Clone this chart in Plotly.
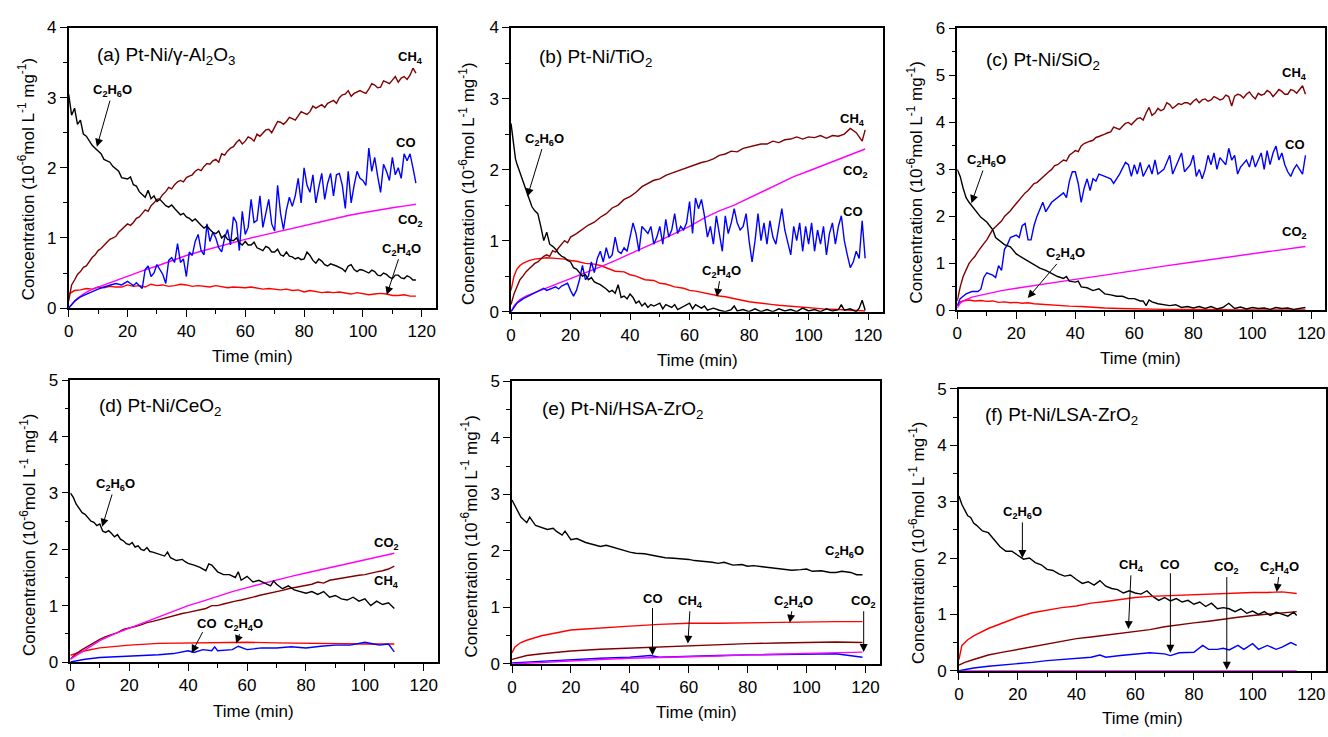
import plotly.graph_objects as go

FONT = "Liberation Sans, Arial, sans-serif"
W, H = 1328, 737

COLORS = {"CH4": "#800000", "C2H6O": "#000000", "CO": "#0000FF",
          "CO2": "#FF00FF", "C2H4O": "#FF0000"}

x_ticks = [0, 20, 40, 60, 80, 100, 120]
x_minor = [10, 30, 50, 70, 90, 110]

# ---------------- (a) Pt-Ni/gamma-Al2O3 ----------------
a_t_c2h6o = list(range(0, 119))
a_c2h6o = [3.05, 2.75, 2.85, 2.62, 2.68, 2.48, 2.45, 2.38, 2.32, 2.28, 2.24, 2.2, 2.12, 2.1, 2.08,
           2.02, 1.98, 1.95, 1.86, 1.85, 1.84, 1.87, 1.76, 1.74, 1.66, 1.62, 1.58, 1.68, 1.56, 1.6,
           1.52, 1.55, 1.5, 1.46, 1.44, 1.47, 1.42, 1.38, 1.33, 1.35, 1.3, 1.28, 1.24, 1.27, 1.22,
           1.18, 1.14, 1.17, 1.12, 1.08, 1.06, 1.1, 1.0, 1.04, 0.98, 0.97, 0.96, 1.0, 0.93, 0.9,
           0.95, 0.9, 0.9, 0.94, 0.86, 0.84, 0.82, 0.88, 0.86, 0.8, 0.8, 0.84, 0.76, 0.74, 0.8, 0.74,
           0.73, 0.7, 0.72, 0.69, 0.7, 0.8, 0.75, 0.68, 0.64, 0.7, 0.67, 0.62, 0.6, 0.63, 0.62, 0.6,
           0.58, 0.56, 0.52, 0.6, 0.62, 0.55, 0.52, 0.55, 0.54, 0.52, 0.5, 0.54, 0.52, 0.47, 0.46,
           0.5, 0.48, 0.44, 0.42, 0.47, 0.47, 0.43, 0.42, 0.46, 0.44, 0.4, 0.4]
a_t_ch4 = list(range(0, 119))
a_ch4 = [0.1, 0.33, 0.4, 0.48, 0.52, 0.58, 0.6, 0.66, 0.72, 0.76, 0.82, 0.85, 0.9, 0.94, 0.98, 1.0,
         1.02, 1.08, 1.12, 1.15, 1.2, 1.18, 1.22, 1.28, 1.3, 1.35, 1.4, 1.38, 1.46, 1.5, 1.55, 1.56,
         1.62, 1.66, 1.72, 1.7, 1.76, 1.8, 1.82, 1.8, 1.86, 1.88, 1.9, 1.95, 1.98, 1.96, 2.02, 2.06,
         2.05, 2.1, 2.12, 2.08, 2.2, 2.18, 2.24, 2.28, 2.3, 2.36, 2.4, 2.34, 2.38, 2.44, 2.42, 2.38,
         2.48, 2.45, 2.5, 2.54, 2.55, 2.5, 2.58, 2.66, 2.65, 2.62, 2.66, 2.72, 2.7, 2.68, 2.74, 2.8,
         2.78, 2.76, 2.8, 2.88, 2.85, 2.88, 2.9, 2.86, 2.92, 2.94, 2.96, 2.92, 3.0, 3.04, 3.05, 3.1,
         3.02, 3.06, 3.08, 3.1, 3.08, 3.06, 3.12, 3.2, 3.18, 3.14, 3.15, 3.24, 3.22, 3.2, 3.25, 3.3,
         3.22, 3.28, 3.3, 3.26, 3.32, 3.42, 3.35]
a_t_co = [0, 2, 4, 6, 8, 10, 12, 14, 16, 18, 20, 21, 22, 23, 25, 26, 27, 28, 29, 30, 31, 32, 33, 34,
          35, 36, 37, 38, 39, 40, 41, 42, 43, 44, 45, 46, 47, 48, 49, 50, 51, 52, 53, 54, 55, 56, 57,
          58, 59, 60, 61, 62, 63, 64, 65, 66, 67, 68, 69, 70, 71, 72, 73, 74, 75, 76, 77, 78, 79, 80,
          81, 82, 83, 84, 85, 86, 87, 88, 89, 90, 91, 92, 93, 94, 95, 96, 97, 98, 99, 100, 101, 102,
          103, 104, 105, 106, 107, 108, 109, 110, 111, 112, 113, 114, 115, 116, 117, 118]
a_co = [0.0, 0.1, 0.16, 0.2, 0.24, 0.27, 0.3, 0.32, 0.35, 0.33, 0.38, 0.35, 0.32, 0.36, 0.28, 0.55,
        0.6, 0.45, 0.5, 0.62, 0.55, 0.48, 0.35, 0.68, 0.72, 0.65, 0.92, 0.65, 0.7, 0.45, 0.8, 0.75,
        0.95, 1.05, 0.82, 0.76, 1.2, 0.95, 1.08, 1.0, 0.86, 0.8, 1.0, 1.12, 0.9, 1.3, 1.22, 0.82,
        1.38, 1.05, 1.15, 1.55, 1.22, 1.25, 1.6, 1.15, 1.35, 1.55, 1.2, 1.1, 1.75, 1.35, 1.12, 1.4,
        1.58, 1.45, 1.6, 1.85, 1.5, 2.0, 1.75, 1.65, 1.9, 1.5, 1.72, 1.92, 1.55, 1.78, 1.92, 1.6,
        1.9, 1.92, 1.75, 1.42, 1.95, 1.5, 1.75, 1.95, 1.85, 1.82, 1.75, 2.28, 1.95, 2.15, 1.88, 1.65,
        2.05, 1.95, 1.82, 2.15, 1.9, 2.0, 1.85, 2.2, 2.1, 2.2, 2.0, 1.78]
a_t_co2 = [0, 1, 2, 3, 5, 7, 10, 15, 20, 25, 30, 35, 40, 45, 50, 55, 60, 65, 70, 75, 80, 85, 90, 95,
           100, 105, 110, 115, 118]
a_co2 = [0.0, 0.05, 0.1, 0.14, 0.2, 0.25, 0.3, 0.38, 0.46, 0.53, 0.6, 0.68, 0.75, 0.81, 0.87, 0.93,
         0.98, 1.03, 1.08, 1.13, 1.18, 1.23, 1.27, 1.32, 1.36, 1.4, 1.43, 1.46, 1.48]
a_t_c2h4o = [0, 1, 2, 4, 6, 8, 10, 12, 14, 16, 18, 20, 22, 24, 26, 28, 30, 32, 34, 36, 38, 40, 42,
             44, 46, 48, 50, 52, 54, 56, 58, 60, 62, 64, 66, 68, 70, 72, 74, 76, 78, 80, 82, 84, 86,
             88, 90, 92, 94, 96, 98, 100, 102, 104, 106, 108, 110, 112, 114, 116, 118]
a_c2h4o = [0.2, 0.23, 0.25, 0.26, 0.28, 0.27, 0.3, 0.29, 0.31, 0.3, 0.3, 0.33, 0.31, 0.32, 0.3,
           0.34, 0.32, 0.33, 0.31, 0.32, 0.34, 0.33, 0.31, 0.32, 0.31, 0.3, 0.32, 0.31, 0.29, 0.3,
           0.29, 0.29, 0.3, 0.28, 0.27, 0.28, 0.27, 0.26, 0.27, 0.25, 0.26, 0.23, 0.25, 0.24, 0.22,
           0.23, 0.22, 0.23, 0.21, 0.2, 0.22, 0.21, 0.19, 0.2, 0.21, 0.2, 0.18, 0.18, 0.19, 0.17,
           0.17]

# ---------------- (b) Pt-Ni/TiO2 ----------------
b_t_c2h6o = [0, 0.5, 1, 1.5, 2, 3, 4, 5, 6, 7, 8, 9, 10, 11, 12, 13, 14, 15, 16, 17, 18, 19, 20, 21,
             22, 23, 24, 25, 26, 27, 28, 29, 30, 32, 33, 34, 35, 36, 37, 38, 39, 40, 41, 42, 43, 44,
             45, 46, 47, 48, 50, 51, 52, 54, 55, 56, 58, 60, 61, 62, 64, 65, 66, 68, 70, 72, 74, 75,
             76, 78, 80, 82, 84, 86, 88, 90, 92, 94, 96, 98, 100, 102, 104, 106, 108, 110, 111, 112,
             114, 116, 117, 118, 119]
b_c2h6o = [2.65, 2.45, 2.3, 2.15, 2.08, 1.95, 1.82, 1.72, 1.6, 1.48, 1.42, 1.38, 1.2, 1.0, 1.12, 0.95,
           0.92, 0.88, 0.82, 0.78, 0.76, 0.72, 0.7, 0.62, 0.6, 0.55, 0.5, 0.52, 0.45, 0.48, 0.42, 0.4,
           0.38, 0.32, 0.28, 0.3, 0.26, 0.38, 0.2, 0.22, 0.18, 0.25, 0.2, 0.12, 0.15, 0.08, 0.12, 0.06,
           0.1, 0.08, 0.12, 0.04, 0.1, 0.06, 0.1, 0.03, 0.08, 0.12, 0.04, 0.1, 0.05, 0.08, 0.02, 0.05,
           0.02, 0.0, 0.03, 0.08, 0.01, 0.03, 0.0, 0.04, 0.0, 0.03, 0.0, 0.04, 0.01, 0.03, 0.0, 0.05,
           0.01, 0.03, 0.0, 0.04, 0.01, 0.03, 0.1, 0.02, 0.04, 0.0, 0.05, 0.16, 0.02]
b_t_ch4 = [0, 1, 2, 3, 4, 5, 6, 7, 8, 9, 10, 11, 12, 13, 14, 15, 16, 17, 18, 19, 20, 22, 24, 26, 28,
           30, 32, 34, 36, 38, 40, 42, 44, 46, 48, 50, 52, 54, 56, 58, 60, 62, 64, 66, 68, 70, 72,
           74, 76, 78, 80, 82, 84, 86, 88, 90, 92, 94, 96, 98, 100, 102, 104, 106, 108, 110, 112,
           114, 116, 118, 119]
b_ch4 = [0.1, 0.25, 0.35, 0.45, 0.5, 0.56, 0.6, 0.64, 0.68, 0.7, 0.74, 0.78, 0.8, 0.78, 0.86, 0.84,
         0.9, 0.95, 1.0, 0.97, 1.05, 1.1, 1.16, 1.22, 1.26, 1.33, 1.38, 1.46, 1.5, 1.58, 1.62, 1.68,
         1.76, 1.8, 1.85, 1.87, 1.92, 1.95, 1.98, 2.02, 2.04, 2.08, 2.1, 2.12, 2.15, 2.2, 2.22,
         2.26, 2.25, 2.3, 2.32, 2.33, 2.36, 2.36, 2.4, 2.38, 2.42, 2.43, 2.46, 2.43, 2.46, 2.45,
         2.48, 2.44, 2.48, 2.47, 2.5, 2.58, 2.52, 2.4, 2.56]
b_t_co = [0, 2, 4, 6, 8, 10, 11, 12, 14, 15, 16, 17, 18, 19, 20, 21, 22, 23, 24, 25, 26, 27, 28, 29,
          30, 31, 32, 33, 34, 35, 36, 37, 38, 39, 40, 41, 42, 43, 44, 45, 46, 47, 48, 49, 50, 51, 52,
          53, 54, 55, 56, 57, 58, 59, 60, 61, 62, 63, 64, 65, 66, 67, 68, 69, 70, 71, 72, 73, 74, 75,
          76, 77, 78, 79, 80, 81, 82, 83, 84, 85, 86, 87, 88, 89, 90, 91, 92, 93, 94, 95, 96, 97, 98,
          99, 100, 101, 102, 103, 104, 105, 106, 107, 108, 109, 110, 111, 112, 113, 114, 115, 116,
          117, 118, 119]
b_co = [0.0, 0.12, 0.18, 0.22, 0.26, 0.3, 0.33, 0.3, 0.34, 0.35, 0.32, 0.36, 0.38, 0.4, 0.3, 0.22,
        0.3, 0.45, 0.65, 0.45, 0.5, 0.7, 0.55, 0.75, 0.85, 0.7, 0.9, 0.75, 0.8, 1.05, 0.85, 0.82, 0.9,
        0.85, 1.05, 1.25, 1.1, 0.85, 1.2, 1.15, 1.1, 1.2, 0.95, 1.05, 1.2, 0.95, 1.3, 1.05, 1.15,
        1.38, 1.1, 1.2, 1.15, 1.25, 1.55, 1.1, 1.6, 1.45, 1.58, 1.35, 1.05, 1.2, 0.95, 1.35, 1.1,
        0.85, 1.35, 1.1, 1.25, 1.45, 1.25, 1.15, 1.2, 1.38, 1.0, 0.7, 1.0, 1.38, 1.0, 1.25, 0.95,
        1.28, 1.05, 0.95, 1.2, 1.45, 1.15, 0.95, 0.8, 1.2, 1.0, 1.25, 0.85, 1.2, 0.95, 1.25, 0.85,
        1.15, 0.95, 1.2, 0.8, 1.1, 1.25, 0.95, 1.2, 1.35, 1.0, 0.8, 0.62, 0.7, 0.85, 0.75, 1.28,
        0.75]
b_t_co2 = [0, 1, 2, 3, 5, 10, 15, 20, 25, 30, 35, 40, 45, 50, 55, 60, 65, 70, 75, 80, 85, 90, 95,
           100, 105, 110, 115, 119]
b_co2 = [0.0, 0.08, 0.13, 0.17, 0.22, 0.3, 0.38, 0.47, 0.55, 0.63, 0.72, 0.82, 0.91, 1.0, 1.1, 1.2,
         1.32, 1.42, 1.5, 1.6, 1.7, 1.8, 1.9, 1.98, 2.06, 2.15, 2.23, 2.29]
b_t_c2h4o = [0, 0.5, 1, 2, 3, 4, 6, 8, 10, 12, 15, 18, 20, 22, 25, 28, 30, 32, 35, 38, 40, 42, 45,
             48, 50, 52, 55, 58, 60, 62, 65, 68, 70, 72, 75, 78, 80, 82, 85, 88, 90, 95, 100, 105,
             110, 115, 119]
b_c2h4o = [0.3, 0.42, 0.5, 0.6, 0.65, 0.68, 0.72, 0.74, 0.75, 0.76, 0.75, 0.74, 0.72, 0.71, 0.68,
           0.67, 0.65, 0.62, 0.57, 0.56, 0.52, 0.5, 0.45, 0.44, 0.4, 0.39, 0.35, 0.33, 0.3, 0.29,
           0.26, 0.24, 0.22, 0.21, 0.18, 0.16, 0.14, 0.13, 0.11, 0.1, 0.09, 0.07, 0.06, 0.04, 0.03,
           0.02, 0.01]

# ---------------- (c) Pt-Ni/SiO2 ----------------
c_t_c2h6o = [0, 1, 2, 3, 4, 5, 6, 7, 8, 10, 11, 12, 13, 14, 15, 16, 18, 19, 20, 22, 24, 26, 28, 30,
             32, 34, 36, 37, 38, 40, 41, 42, 44, 46, 48, 50, 52, 54, 56, 58, 60, 62, 63, 64, 65, 66,
             68, 70, 72, 74, 76, 78, 80, 82, 84, 86, 88, 90, 92, 94, 96, 98, 100, 102, 104, 106, 108,
             110, 112, 114, 116, 118]
c_c2h6o = [3.0, 2.85, 2.6, 2.4, 2.3, 2.22, 2.15, 2.05, 1.98, 1.88, 1.8, 1.72, 1.55, 1.5, 1.45, 1.4,
           1.35, 1.28, 1.2, 1.12, 1.05, 0.98, 0.9, 0.85, 0.78, 0.72, 0.68, 0.72, 0.62, 0.6, 0.62,
           0.5, 0.48, 0.42, 0.46, 0.35, 0.33, 0.3, 0.3, 0.25, 0.25, 0.2, 0.2, 0.1, 0.22, 0.18, 0.14,
           0.12, 0.1, 0.12, 0.06, 0.08, 0.05, 0.08, 0.04, 0.08, 0.03, 0.06, 0.15, 0.04, 0.07, 0.03,
           0.06, 0.04, 0.05, 0.02, 0.06, 0.04, 0.05, 0.02, 0.04, 0.06]
c_t_ch4 = list(range(0, 119))
c_ch4 = [0.2, 0.5, 0.72, 0.88, 1.0, 1.08, 1.15, 1.25, 1.35, 1.42, 1.5, 1.62, 1.72, 1.78, 1.85, 1.9,
         2.0, 2.05, 2.12, 2.2, 2.28, 2.35, 2.42, 2.5, 2.55, 2.62, 2.7, 2.72, 2.78, 2.85, 2.9, 2.95,
         3.0, 3.08, 3.1, 3.15, 3.2, 3.18, 3.3, 3.35, 3.4, 3.38, 3.5, 3.55, 3.58, 3.6, 3.62, 3.68,
         3.7, 3.72, 3.75, 3.78, 3.8, 3.9, 3.88, 3.85, 3.92, 3.98, 4.0, 3.95, 4.02, 4.08, 4.1, 4.05,
         4.2, 4.32, 4.15, 4.2, 4.3, 4.25, 4.28, 4.42, 4.38, 4.3, 4.35, 4.4, 4.38, 4.42, 4.42, 4.38,
         4.45, 4.5, 4.42, 4.48, 4.5, 4.45, 4.48, 4.55, 4.52, 4.48, 4.5, 4.58, 4.55, 4.35, 4.56, 4.6,
         4.58, 4.52, 4.6, 4.65, 4.56, 4.5, 4.62, 4.58, 4.6, 4.68, 4.64, 4.55, 4.62, 4.7, 4.66, 4.6,
         4.6, 4.7, 4.68, 4.62, 4.7, 4.78, 4.6]
c_t_co = [0, 1, 2, 3, 5, 7, 8, 9, 10, 12, 13, 14, 15, 16, 17, 18, 20, 21, 22, 23, 24, 25, 26, 27,
          29, 30, 32, 34, 36, 37, 38, 39, 40, 41, 42, 43, 44, 45, 46, 47, 48, 50, 52, 53, 55, 57,
          58, 59, 60, 61, 62, 63, 65, 66, 67, 68, 70, 72, 73, 75, 76, 77, 79, 80, 81, 82, 83, 84,
          85, 86, 87, 88, 89, 91, 92, 93, 94, 95, 96, 98, 99, 100, 101, 102, 103, 104, 105, 106,
          107, 108, 109, 110, 111, 112, 113, 114, 115, 116, 117, 118]
c_co = [0.1, 0.25, 0.3, 0.35, 0.4, 0.4, 0.45, 0.7, 0.8, 0.75, 0.7, 0.95, 0.85, 1.3, 1.4, 1.55, 1.6,
        1.55, 1.8, 1.85, 1.5, 1.5, 1.8, 2.0, 2.3, 2.1, 2.3, 2.4, 2.5, 2.4, 2.75, 2.95, 2.95, 2.7,
        2.3, 2.6, 2.8, 2.55, 2.8, 2.75, 2.9, 2.85, 2.8, 2.7, 2.9, 3.15, 3.1, 2.85, 3.1, 2.9, 3.15,
        2.85, 3.1, 2.9, 3.2, 2.9, 3.0, 3.3, 2.9, 3.2, 3.35, 2.95, 3.1, 3.3, 2.85, 3.0, 2.8, 3.0,
        3.3, 3.1, 3.35, 3.0, 3.25, 3.1, 3.45, 3.2, 3.3, 2.9, 3.05, 3.2, 3.05, 3.3, 3.05, 3.2, 3.35,
        3.0, 3.4, 3.1, 3.35, 3.5, 3.2, 3.35, 3.1, 2.95, 2.85, 3.0, 3.1, 3.0, 2.9, 3.3]
c_t_co2 = [0, 1, 2, 5, 10, 15, 20, 25, 30, 40, 50, 60, 70, 80, 90, 100, 110, 118]
c_co2 = [0.05, 0.15, 0.2, 0.28, 0.35, 0.42, 0.47, 0.52, 0.57, 0.66, 0.75, 0.85, 0.94, 1.03, 1.12,
         1.21, 1.29, 1.36]
c_t_c2h4o = [0, 1, 2, 4, 6, 8, 10, 12, 14, 16, 18, 20, 22, 24, 26, 28, 30, 34, 38, 42, 46, 50, 55,
             60, 70, 80, 90, 100, 110, 118]
c_c2h4o = [0.1, 0.18, 0.2, 0.22, 0.2, 0.21, 0.19, 0.2, 0.17, 0.18, 0.16, 0.17, 0.15, 0.16, 0.14,
           0.13, 0.12, 0.11, 0.09, 0.08, 0.06, 0.05, 0.04, 0.03, 0.02, 0.02, 0.01, 0.01, 0.01, 0.01]

# ---------------- (d) Pt-Ni/CeO2 ----------------
d_t_c2h6o = [0, 1, 2, 3, 4, 5, 6, 7, 8, 9, 10, 11, 12, 13, 14, 15, 16, 17, 18, 19, 20, 21, 22, 23,
             24, 25, 26, 27, 28, 30, 32, 33, 34, 36, 38, 39, 40, 42, 44, 46, 47, 48, 50, 52, 54, 56,
             57, 58, 60, 62, 64, 66, 68, 69, 70, 72, 74, 76, 78, 80, 82, 84, 86, 88, 90, 92, 94,
             96, 98, 100, 102, 104, 106, 108, 110]
d_c2h6o = [3.0, 2.92, 2.8, 2.72, 2.65, 2.62, 2.55, 2.5, 2.48, 2.42, 2.45, 2.32, 2.3, 2.33, 2.28,
           2.22, 2.26, 2.18, 2.15, 2.1, 2.08, 2.12, 2.04, 2.06, 2.0, 1.98, 2.03, 1.96, 1.95, 1.92,
           1.88, 1.95, 1.85, 1.8, 1.82, 1.78, 1.75, 1.72, 1.68, 1.62, 1.74, 1.72, 1.6, 1.55, 1.55,
           1.5, 1.6, 1.45, 1.52, 1.42, 1.45, 1.4, 1.35, 1.44, 1.38, 1.3, 1.35, 1.28, 1.25, 1.22,
           1.25, 1.2, 1.25, 1.15, 1.18, 1.12, 1.1, 1.15, 1.08, 1.12, 1.0, 1.08, 1.02, 1.05, 0.95]
d_t_ch4 = [0, 2, 4, 6, 8, 10, 12, 14, 16, 18, 20, 22, 24, 26, 28, 30, 32, 34, 36, 38, 40, 42, 44,
           46, 48, 50, 52, 54, 56, 58, 60, 62, 64, 66, 68, 70, 72, 74, 76, 78, 80, 82, 84, 86, 88,
           90, 92, 94, 96, 98, 100, 102, 104, 106, 108, 110]
d_ch4 = [0.05, 0.15, 0.22, 0.28, 0.35, 0.4, 0.45, 0.48, 0.52, 0.58, 0.6, 0.63, 0.66, 0.7, 0.72,
         0.75, 0.78, 0.8, 0.83, 0.86, 0.88, 0.9, 0.93, 0.95, 1.0, 1.0, 1.03, 1.06, 1.08, 1.1, 1.12,
         1.15, 1.18, 1.2, 1.22, 1.25, 1.27, 1.3, 1.32, 1.35, 1.37, 1.38, 1.42, 1.4, 1.45, 1.47, 1.48,
         1.5, 1.52, 1.54, 1.55, 1.58, 1.6, 1.62, 1.65, 1.7]
d_t_co = [0, 5, 10, 20, 30, 35, 40, 42, 45, 48, 49, 50, 55, 57, 60, 65, 70, 75, 80, 85, 90, 95, 100,
          103, 105, 108, 110]
d_co = [0.0, 0.05, 0.08, 0.1, 0.13, 0.15, 0.2, 0.17, 0.22, 0.2, 0.27, 0.2, 0.22, 0.28, 0.22, 0.25,
        0.25, 0.27, 0.25, 0.28, 0.3, 0.3, 0.35, 0.32, 0.3, 0.32, 0.18]
d_t_co2 = [0, 5, 10, 15, 20, 25, 30, 35, 40, 45, 50, 55, 60, 65, 70, 75, 80, 85, 90, 95, 100, 105,
           110]
d_co2 = [0.05, 0.22, 0.38, 0.5, 0.6, 0.7, 0.8, 0.9, 1.0, 1.08, 1.17, 1.25, 1.32, 1.39, 1.45, 1.52,
         1.58, 1.64, 1.7, 1.76, 1.82, 1.88, 1.93]
d_t_c2h4o = [0, 5, 10, 20, 30, 40, 50, 60, 70, 80, 90, 100, 110]
d_c2h4o = [0.12, 0.2, 0.25, 0.3, 0.33, 0.34, 0.35, 0.35, 0.34, 0.33, 0.33, 0.32, 0.32]

# ---------------- (e) Pt-Ni/HSA-ZrO2 ----------------
e_t_c2h6o = [0, 1, 2, 3, 5, 6, 8, 10, 12, 14, 15, 17, 18, 20, 22, 25, 28, 30, 32, 35, 38, 40, 42,
             45, 48, 50, 52, 55, 58, 60, 62, 65, 68, 70, 72, 75, 78, 80, 82, 85, 88, 90, 92, 95, 98,
             100, 102, 105, 108, 110, 112, 115, 117, 119]
e_c2h6o = [2.9, 2.8, 2.7, 2.6, 2.5, 2.6, 2.45, 2.42, 2.38, 2.4, 2.35, 2.28, 2.35, 2.2, 2.22, 2.15,
           2.1, 2.08, 2.1, 2.05, 2.0, 1.98, 1.96, 1.95, 1.92, 1.9, 1.88, 1.87, 1.86, 1.85, 1.83, 1.82,
           1.8, 1.78, 1.8, 1.75, 1.76, 1.73, 1.74, 1.72, 1.7, 1.7, 1.68, 1.66, 1.67, 1.68, 1.64, 1.65,
           1.62, 1.62, 1.64, 1.62, 1.58, 1.58]
e_t_ch4 = [0, 5, 10, 20, 30, 40, 50, 60, 70, 80, 90, 100, 110, 119]
e_ch4 = [0.08, 0.15, 0.18, 0.23, 0.26, 0.28, 0.3, 0.33, 0.35, 0.36, 0.37, 0.38, 0.39, 0.38]
e_t_co = [0, 10, 20, 30, 40, 47, 50, 60, 70, 80, 90, 100, 110, 119]
e_co = [0.02, 0.05, 0.08, 0.1, 0.12, 0.15, 0.12, 0.14, 0.15, 0.16, 0.17, 0.18, 0.18, 0.12]
e_t_co2 = [0, 10, 20, 30, 40, 50, 60, 70, 80, 90, 100, 110, 119]
e_co2 = [0.0, 0.03, 0.06, 0.08, 0.1, 0.11, 0.13, 0.14, 0.16, 0.17, 0.19, 0.2, 0.21]
e_t_c2h4o = [0, 1, 3, 5, 10, 15, 20, 25, 30, 40, 50, 60, 70, 80, 90, 100, 110, 119]
e_c2h4o = [0.2, 0.3, 0.38, 0.42, 0.5, 0.55, 0.6, 0.62, 0.64, 0.67, 0.7, 0.72, 0.72, 0.73, 0.74,
           0.75, 0.75, 0.75]

# ---------------- (f) Pt-Ni/LSA-ZrO2 ----------------
f_t_c2h6o = [0, 1, 2, 3, 4, 5, 6, 8, 10, 12, 14, 16, 18, 20, 22, 24, 26, 28, 30, 32, 34, 36, 38, 40,
             42, 44, 46, 48, 50, 52, 54, 56, 58, 60, 62, 64, 66, 68, 70, 72, 74, 76, 78, 80, 82, 84,
             86, 88, 90, 92, 94, 96, 98, 100, 102, 104, 106, 108, 110, 112, 114, 115]
f_c2h6o = [3.1, 2.95, 2.85, 2.75, 2.72, 2.62, 2.58, 2.48, 2.45, 2.32, 2.2, 2.12, 2.12, 2.05, 1.98,
           2.0, 1.92, 1.88, 1.8, 1.78, 1.72, 1.68, 1.7, 1.62, 1.55, 1.58, 1.52, 1.6, 1.5, 1.46, 1.44,
           1.38, 1.42, 1.38, 1.36, 1.42, 1.32, 1.25, 1.3, 1.24, 1.28, 1.22, 1.25, 1.18, 1.22, 1.14,
           1.2, 1.1, 1.12, 1.1, 1.05, 1.1, 1.02, 1.06, 1.0, 1.05, 0.98, 1.04, 1.0, 0.97, 1.04, 0.98]
f_t_ch4 = [0, 2, 5, 10, 15, 20, 25, 30, 35, 40, 45, 50, 55, 60, 65, 70, 75, 80, 85, 90, 95, 100,
           105, 110, 115]
f_ch4 = [0.1, 0.15, 0.2, 0.28, 0.33, 0.38, 0.43, 0.48, 0.52, 0.57, 0.6, 0.63, 0.67, 0.7, 0.73,
         0.78, 0.82, 0.85, 0.88, 0.92, 0.95, 0.98, 1.0, 1.02, 1.05]
f_t_co = [0, 5, 10, 15, 20, 25, 30, 35, 40, 45, 48, 50, 55, 60, 65, 70, 72, 75, 80, 83, 85, 88, 90,
          92, 95, 97, 100, 102, 105, 108, 110, 113, 115]
f_co = [0.0, 0.05, 0.08, 0.1, 0.13, 0.15, 0.18, 0.2, 0.22, 0.24, 0.28, 0.24, 0.27, 0.3, 0.32, 0.3,
        0.27, 0.32, 0.33, 0.45, 0.38, 0.38, 0.4, 0.37, 0.45, 0.38, 0.48, 0.38, 0.45, 0.38, 0.42,
        0.5, 0.45]
f_t_co2 = [0, 115]
f_co2 = [0.0, 0.0]
f_t_c2h4o = [0, 0.5, 1, 3, 5, 10, 15, 20, 25, 30, 35, 40, 45, 50, 55, 60, 65, 70, 75, 80, 85, 90,
             95, 100, 105, 110, 115]
f_c2h4o = [0.2, 0.35, 0.45, 0.55, 0.62, 0.75, 0.85, 0.95, 1.03, 1.08, 1.12, 1.15, 1.2, 1.23, 1.27,
           1.3, 1.32, 1.33, 1.35, 1.35, 1.36, 1.37, 1.38, 1.39, 1.39, 1.4, 1.37]

SUB = {"CH4": "CH<sub>4</sub>", "CO": "CO", "CO2": "CO<sub>2</sub>",
       "C2H6O": "C<sub>2</sub>H<sub>6</sub>O", "C2H4O": "C<sub>2</sub>H<sub>4</sub>O"}

# panel: title, y-axis max, series in drawing order, axis box in pixels (left, right, top, bottom)
panels = [
    dict(title="(a) Pt-Ni/γ-Al<sub>2</sub>O<sub>3</sub>", ymax=4,
         series=[("C2H4O", a_t_c2h4o, a_c2h4o), ("CO2", a_t_co2, a_co2), ("CO", a_t_co, a_co),
                 ("CH4", a_t_ch4, a_ch4), ("C2H6O", a_t_c2h6o, a_c2h6o)],
         box=(64, 433, 19, 307), x120=419, title_px=(90, 48),
         ytitle_px=(22, 175), xtitle_px=(249, 357)),
    dict(title="(b) Pt-Ni/TiO<sub>2</sub>", ymax=4,
         series=[("C2H4O", b_t_c2h4o, b_c2h4o), ("CO2", b_t_co2, b_co2), ("CO", b_t_co, b_co),
                 ("CH4", b_t_ch4, b_ch4), ("C2H6O", b_t_c2h6o, b_c2h6o)],
         box=(508.7, 882.7, 19, 310.7), x120=867.7, title_px=(535, 50),
         ytitle_px=(465, 180), xtitle_px=(696, 361)),
    dict(title="(c) Pt-Ni/SiO<sub>2</sub>", ymax=6,
         series=[("C2H4O", c_t_c2h4o, c_c2h4o), ("CO2", c_t_co2, c_co2), ("CO", c_t_co, c_co),
                 ("CH4", c_t_ch4, c_ch4), ("C2H6O", c_t_c2h6o, c_c2h6o)],
         box=(957.3, 1326.7, 20, 309.3), x120=1313.3, title_px=(984, 53),
         ytitle_px=(915, 178), xtitle_px=(1142, 359)),
    dict(title="(d) Pt-Ni/CeO<sub>2</sub>", ymax=5,
         series=[("C2H4O", d_t_c2h4o, d_c2h4o), ("CO", d_t_co, d_co), ("CH4", d_t_ch4, d_ch4),
                 ("CO2", d_t_co2, d_co2), ("C2H6O", d_t_c2h6o, d_c2h6o)],
         box=(65.7, 435.3, 381, 670.3), x120=421, title_px=(92, 409),
         ytitle_px=(23, 540), xtitle_px=(250, 721)),
    dict(title="(e) Pt-Ni/HSA-ZrO<sub>2</sub>", ymax=5,
         series=[("CO", e_t_co, e_co), ("CO2", e_t_co2, e_co2), ("CH4", e_t_ch4, e_ch4),
                 ("C2H4O", e_t_c2h4o, e_c2h4o), ("C2H6O", e_t_c2h6o, e_c2h6o)],
         box=(509.7, 879.3, 382.3, 672.3), x120=865, title_px=(538, 412),
         ytitle_px=(467, 542), xtitle_px=(695, 722)),
    dict(title="(f) Pt-Ni/LSA-ZrO<sub>2</sub>", ymax=5,
         series=[("CO2", f_t_co2, f_co2), ("CO", f_t_co, f_co), ("CH4", f_t_ch4, f_ch4),
                 ("C2H6O", f_t_c2h6o, f_c2h6o), ("C2H4O", f_t_c2h4o, f_c2h4o)],
         box=(959, 1328, 390, 679.3), x120=1313.3, title_px=(983, 418),
         ytitle_px=(917, 548), xtitle_px=(1144, None)),
]

# curve labels: (panel, species, text position, arrow tip or None)
curve_labels = [
    (0, "C2H6O", (15.0, 3.10), (9.6, 2.30)),
    (0, "CH4", (116.3, 3.57), None),
    (0, "CO", (114.6, 2.36), None),
    (0, "CO2", (116.0, 1.25), None),
    (0, "C2H4O", (113.2, 0.84), (108.1, 0.19)),
    (1, "C2H6O", (11.4, 2.43), (5.5, 1.62)),
    (1, "CH4", (114.9, 2.71), None),
    (1, "CO2", (115.8, 1.98), None),
    (1, "CO", (114.9, 1.41), None),
    (1, "C2H4O", (70.6, 0.57), (69.2, 0.21)),
    (2, "C2H6O", (9.9, 3.19), (4.8, 2.28)),
    (2, "CH4", (114.4, 5.04), None),
    (2, "CO", (114.4, 3.52), None),
    (2, "CO2", (114.2, 1.66), None),
    (2, "C2H4O", (36.6, 1.20), (23.9, 0.26)),
    (3, "C2H6O", (15.2, 3.15), (10.8, 2.40)),
    (3, "CO2", (107.3, 2.10), None),
    (3, "CH4", (107.3, 1.43), None),
    (3, "CO", (46.5, 0.69), (41.2, 0.16)),
    (3, "C2H4O", (58.7, 0.67), (56.3, 0.33)),
    (4, "C2H6O", (113.0, 1.99), None),
    (4, "CO", (47.7, 1.15), (47.7, 0.155)),
    (4, "CH4", (60.6, 1.11), (59.7, 0.36)),
    (4, "C2H4O", (95.6, 1.11), (94.3, 0.73)),
    (4, "CO2", (119.4, 1.11), (119.4, 0.21)),
    (5, "C2H6O", (21.6, 2.81), (21.6, 2.0)),
    (5, "CH4", (58.7, 1.87), (57.7, 0.74)),
    (5, "CO", (72.0, 1.89), (72.0, 0.32)),
    (5, "CO2", (91.2, 1.84), (91.2, 0.02)),
    (5, "C2H4O", (109.3, 1.84), (108.2, 1.40)),
]


def px_x(x):
    return x / W


def px_y(y):
    return 1 - y / H


fig = go.Figure()
annotations = []
layout_axes = {}

for i, p in enumerate(panels):
    n = "" if i == 0 else str(i + 1)
    xa, ya = "x" + n, "y" + n
    left, right, top, bottom = p["box"]
    xmax = 120 * (right - left) / (p["x120"] - left)
    for species, t, v in p["series"]:
        fig.add_trace(go.Scatter(x=t, y=v, mode="lines", xaxis=xa, yaxis=ya,
                                 line=dict(color=COLORS[species], width=1.4),
                                 showlegend=False, hoverinfo="skip"))
    ymax = p["ymax"]
    y_ticks = list(range(0, ymax + 1))
    y_minor = [k + 0.5 for k in range(0, ymax)]
    common = dict(showline=True, linecolor="black", linewidth=1.5, mirror=True,
                  showgrid=False, zeroline=False, ticks="outside", ticklen=7, tickwidth=1.3,
                  tickcolor="black", layer="below traces",
                  tickfont=dict(family=FONT, size=17, color="black"))
    layout_axes["xaxis" + n] = dict(
        common, domain=[px_x(left), px_x(right)], anchor=ya, range=[0, xmax],
        tickmode="array", tickvals=x_ticks,
        minor=dict(tickmode="array", tickvals=x_minor, ticks="outside", ticklen=4,
                   tickwidth=1.3, tickcolor="black", showgrid=False))
    layout_axes["yaxis" + n] = dict(
        common, domain=[px_y(bottom), px_y(top)], anchor=xa, range=[0, ymax],
        tickmode="array", tickvals=y_ticks,
        minor=dict(tickmode="array", tickvals=y_minor, ticks="outside", ticklen=4,
                   tickwidth=1.3, tickcolor="black", showgrid=False))
    # panel title
    annotations.append(dict(text=p["title"], xref="paper", yref="paper",
                            x=px_x(p["title_px"][0]), y=px_y(p["title_px"][1]),
                            xanchor="left", yanchor="middle", showarrow=False,
                            font=dict(family=FONT, size=19, color="black")))
    # axis titles
    annotations.append(dict(text="Concentration (10<sup>-6</sup>mol L<sup>-1</sup> mg<sup>-1</sup>)",
                            xref="paper", yref="paper",
                            x=px_x(p["ytitle_px"][0]), y=px_y(p["ytitle_px"][1]),
                            xanchor="center", yanchor="middle", textangle=-90, showarrow=False,
                            font=dict(family=FONT, size=17, color="black")))
    tx_px, ty_px = p["xtitle_px"]
    xt = dict(text="Time (min)", xref="paper", yref="paper", x=px_x(tx_px),
              xanchor="center", showarrow=False, font=dict(family=FONT, size=17, color="black"))
    if ty_px is None:
        # bottom row, right panel: title sits against the lower edge of the figure
        xt.update(y=0, yanchor="bottom", yshift=-3)
    else:
        xt.update(y=px_y(ty_px), yanchor="middle")
    annotations.append(xt)

for idx, species, (tx, ty), tip in curve_labels:
    n = "" if idx == 0 else str(idx + 1)
    label = dict(text="<b>" + SUB[species] + "</b>", xref="x" + n, yref="y" + n,
                 font=dict(family=FONT, size=13, color="black"))
    if tip is None:
        label.update(x=tx, y=ty, showarrow=False)
    else:
        label.update(x=tip[0], y=tip[1], ax=tx, ay=ty, axref="x" + n, ayref="y" + n,
                     showarrow=True, arrowhead=2, arrowsize=1.6, arrowwidth=1,
                     arrowcolor="black", standoff=0)
    annotations.append(label)

fig.update_layout(width=W, height=H, margin=dict(l=0, r=0, t=0, b=0),
                  paper_bgcolor="white", plot_bgcolor="white",
                  annotations=annotations, **layout_axes)

fig.write_html("out.html")
